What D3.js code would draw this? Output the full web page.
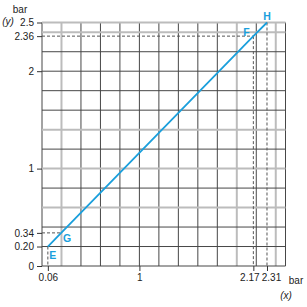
<!DOCTYPE html>
<html>
<head>
<meta charset="utf-8">
<script src="https://cdn.jsdelivr.net/npm/d3@7"></script>
<style>
  body { margin: 0; background: #fff; }
  svg { display: block; font-family: "Liberation Sans", Arial, sans-serif; }
</style>
</head>
<body>
<svg width="307" height="307"></svg>
<script>
// pressure line: E -> G -> F -> H
const pointNames = ["E", "G", "F", "H"];
const xValues = [0.06, 0.197, 2.17, 2.31];
const yValues = [0.20, 0.34, 2.36, 2.5];

// grid every 0.2 bar, plus the 2.5 edge
const gridValues = [0, 0.2, 0.4, 0.6, 0.8, 1.0, 1.2, 1.4, 1.6, 1.8, 2.0, 2.2, 2.4, 2.5];
const lightX = [0.2, 2.0, 2.4];
const lightY = [0.6, 1.0, 1.4, 2.4, 2.5];

const xTicks = [0.06, 1, 2.17, 2.31];
const xTickLabels = ["0.06", "1", "2.17", "2.31"];
const yTicks = [0, 0.2, 0.34, 1, 2, 2.36, 2.5];
const yTickLabels = ["0", "0.20", "0.34", "1", "2", "2.36", "2.5"];

const svg = d3.select('svg');
const blue = '#1a9fdc';

const x = d3.scaleLinear().domain([0, 2.5]).range([42, 285.5]);
const y = d3.scaleLinear().domain([0, 2.5]).range([266, 22.5]);

const near = (arr, v) => arr.some(a => Math.abs(a - v) < 1e-6);

// grid
const grid = svg.append('g');
grid.selectAll('line.gx')
  .data(gridValues)
  .join('line')
  .attr('class', 'gx')
  .attr('x1', d => x(d)).attr('x2', d => x(d))
  .attr('y1', y(0)).attr('y2', y(2.5))
  .attr('stroke', d => near(lightX, d) ? '#bcbcbc' : '#474747')
  .attr('stroke-width', d => near(lightX, d) ? 2 : 1);

grid.selectAll('line.gy')
  .data(gridValues)
  .join('line')
  .attr('class', 'gy')
  .attr('y1', d => y(d)).attr('y2', d => y(d))
  .attr('x1', x(0)).attr('x2', x(2.5))
  .attr('stroke', d => near(lightY, d) ? '#bcbcbc' : '#474747')
  .attr('stroke-width', d => near(lightY, d) ? 2 : 1);

// dashed guide lines
const dash = svg.append('g')
  .attr('stroke', '#555')
  .attr('stroke-width', 1)
  .attr('stroke-dasharray', '3,2');

// vertical drops from E, F, H
[0, 2, 3].forEach(i => {
  dash.append('line')
    .attr('x1', x(xValues[i])).attr('x2', x(xValues[i]))
    .attr('y1', y(yValues[i])).attr('y2', y(0));
});
// horizontal guides for G and F
[1, 2].forEach(i => {
  dash.append('line')
    .attr('x1', x(0)).attr('x2', x(xValues[i]))
    .attr('y1', y(yValues[i])).attr('y2', y(yValues[i]));
});

// axes
const yAxis = svg.append('g')
  .attr('transform', `translate(${x(0)},0)`)
  .call(d3.axisLeft(y).tickValues(yTicks).tickSize(5).tickPadding(3)
    .tickFormat((d, i) => yTickLabels[i]));

const xAxis = svg.append('g')
  .attr('transform', `translate(0,${y(0)})`)
  .call(d3.axisBottom(x).tickValues(xTicks).tickSize(5).tickPadding(3)
    .tickFormat((d, i) => xTickLabels[i]));

[yAxis, xAxis].forEach(a => {
  a.select('.domain').remove();
  a.selectAll('.tick line').attr('stroke', '#333');
  a.selectAll('text').attr('font-size', 10).attr('fill', '#222')
    .attr('font-family', '"Liberation Sans", Arial, sans-serif');
});
// nudge the two close labels apart
xAxis.selectAll('.tick text').attr('dx', (d, i) => [0, 0, -4, 4][i]);

// the pressure line
svg.append('path')
  .datum(xValues.map((v, i) => [v, yValues[i]]))
  .attr('fill', 'none')
  .attr('stroke', blue)
  .attr('stroke-width', 1.8)
  .attr('d', d3.line().x(d => x(d[0])).y(d => y(d[1])));

// point names
const labelOffsets = [[5, 12], [6, 9.5], [-7, -0.5], [0, -2.5]];
svg.selectAll('text.pname')
  .data(pointNames)
  .join('text')
  .attr('class', 'pname')
  .attr('x', (d, i) => x(xValues[i]) + labelOffsets[i][0])
  .attr('y', (d, i) => y(yValues[i]) + labelOffsets[i][1])
  .attr('text-anchor', 'middle')
  .attr('font-size', 10.5)
  .attr('font-weight', 'bold')
  .attr('fill', blue)
  .text(d => d);

// unit labels
svg.append('text').attr('x', 20).attr('y', 13).attr('text-anchor', 'middle')
  .attr('font-size', 10).attr('fill', '#222').text('bar');
svg.append('text').attr('x', 8).attr('y', 25).attr('text-anchor', 'middle')
  .attr('font-size', 10).attr('font-style', 'italic').attr('fill', '#222').text('(y)');
svg.append('text').attr('x', 296).attr('y', 284).attr('text-anchor', 'middle')
  .attr('font-size', 10).attr('fill', '#222').text('bar');
svg.append('text').attr('x', 286).attr('y', 299).attr('text-anchor', 'middle')
  .attr('font-size', 10).attr('font-style', 'italic').attr('fill', '#222').text('(x)');
</script>
</body>
</html>
